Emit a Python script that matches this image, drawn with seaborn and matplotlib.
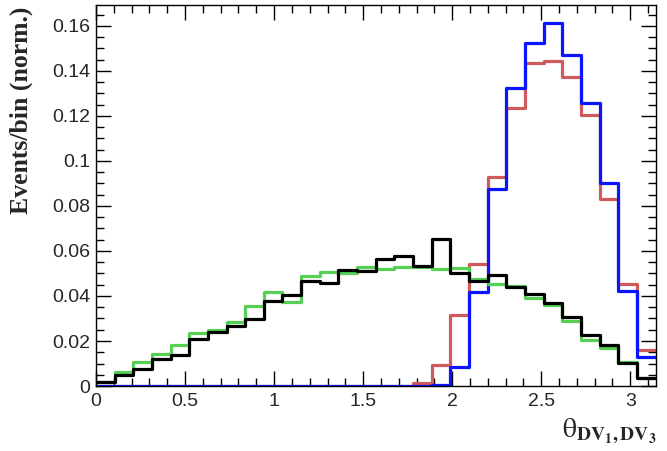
import numpy as np
import pandas as pd
import matplotlib
matplotlib.use("Agg")
import matplotlib.pyplot as plt
from matplotlib.ticker import MultipleLocator
import seaborn as sns

# 30 bins from 0 to pi
n_bins = 30
x_max = np.pi

red = [0, 0, 0, 0, 0, 0, 0, 0, 0, 0,
       0, 0, 0, 0, 0, 0, 0, 0.0012, 0.0093, 0.0316,
       0.0542, 0.0927, 0.1234, 0.1437, 0.1444, 0.1372, 0.1204, 0.0830, 0.0452, 0.0160]
blue = [0, 0, 0, 0, 0, 0, 0, 0, 0, 0,
        0, 0, 0, 0, 0, 0, 0, 0, 0.0006, 0.0086,
        0.0418, 0.0874, 0.1323, 0.1523, 0.1612, 0.1471, 0.1256, 0.0901, 0.0422, 0.0130]
green = [0.0020, 0.0064, 0.0108, 0.0141, 0.0182, 0.0237, 0.0249, 0.0286, 0.0356, 0.0416,
         0.0372, 0.0489, 0.0508, 0.0504, 0.0527, 0.0519, 0.0527, 0.0530, 0.0521, 0.0524,
         0.0474, 0.0453, 0.0444, 0.0390, 0.0360, 0.0289, 0.0204, 0.0167, 0.0108, 0.0036]
black = [0.0019, 0.0049, 0.0076, 0.0120, 0.0138, 0.0209, 0.0241, 0.0267, 0.0298, 0.0378,
         0.0404, 0.0468, 0.0459, 0.0516, 0.0511, 0.0564, 0.0578, 0.0535, 0.0653, 0.0501,
         0.0467, 0.0492, 0.0441, 0.0408, 0.0367, 0.0305, 0.0227, 0.0182, 0.0104, 0.0036]

edges = [float(e) for e in np.linspace(0, x_max, n_bins + 1)]
centers = [0.5 * (edges[i] + edges[i + 1]) for i in range(n_bins)]

sns.set_style("ticks")
plt.rcParams['font.family'] = ['Liberation Sans', 'DejaVu Sans']

fig = plt.figure(figsize=(6.67, 4.51), dpi=100)
ax = fig.add_axes([0.1439, 0.1441, 0.9828 - 0.1439, 0.9889 - 0.1441])

series = [(red, "#d05a5a"), (blue, "#0a14ff"), (green, "#55d055"), (black, "#000000")]
for vals, col in series:
    df = pd.DataFrame({"x": centers, "w": vals})
    sns.histplot(data=df, x="x", weights="w", bins=edges, element="step",
                 fill=False, color=col, linewidth=2.3, ax=ax)

ax.set_xlim(0, x_max)
ax.set_ylim(0, 0.1693)
ax.xaxis.set_major_locator(MultipleLocator(0.5))
ax.xaxis.set_minor_locator(MultipleLocator(0.1))
ax.yaxis.set_major_locator(MultipleLocator(0.02))
ax.yaxis.set_minor_locator(MultipleLocator(0.005))

def fmt(v, pos):
    s = f"{v:.2f}".rstrip("0").rstrip(".")
    return s if s else "0"
ax.xaxis.set_major_formatter(plt.FuncFormatter(fmt))
ax.yaxis.set_major_formatter(plt.FuncFormatter(fmt))

ax.tick_params(which="both", direction="in", top=True, right=True, labelsize=14, width=1, color="black")
ax.tick_params(which="major", length=11)
ax.tick_params(which="minor", length=5.5)
ax.tick_params(axis="x", pad=5)
ax.tick_params(axis="y", pad=4)
for sp in ax.spines.values():
    sp.set_linewidth(1)
    sp.set_color("black")

ax.set_xlabel("")
ax.set_ylabel("")
fig.text(0.032, 0.986, "Events/bin (norm.)", rotation=90, ha="center", va="top",
         fontsize=18.5, fontweight="bold", family="Liberation Serif")
fig.text(0.984, 0.012, r"$\mathrm{θ}_{\mathbf{DV_{1},DV_{3}}}$", ha="right", va="bottom",
         fontsize=20, math_fontfamily="stix")

fig.savefig("out.png", dpi=100)
